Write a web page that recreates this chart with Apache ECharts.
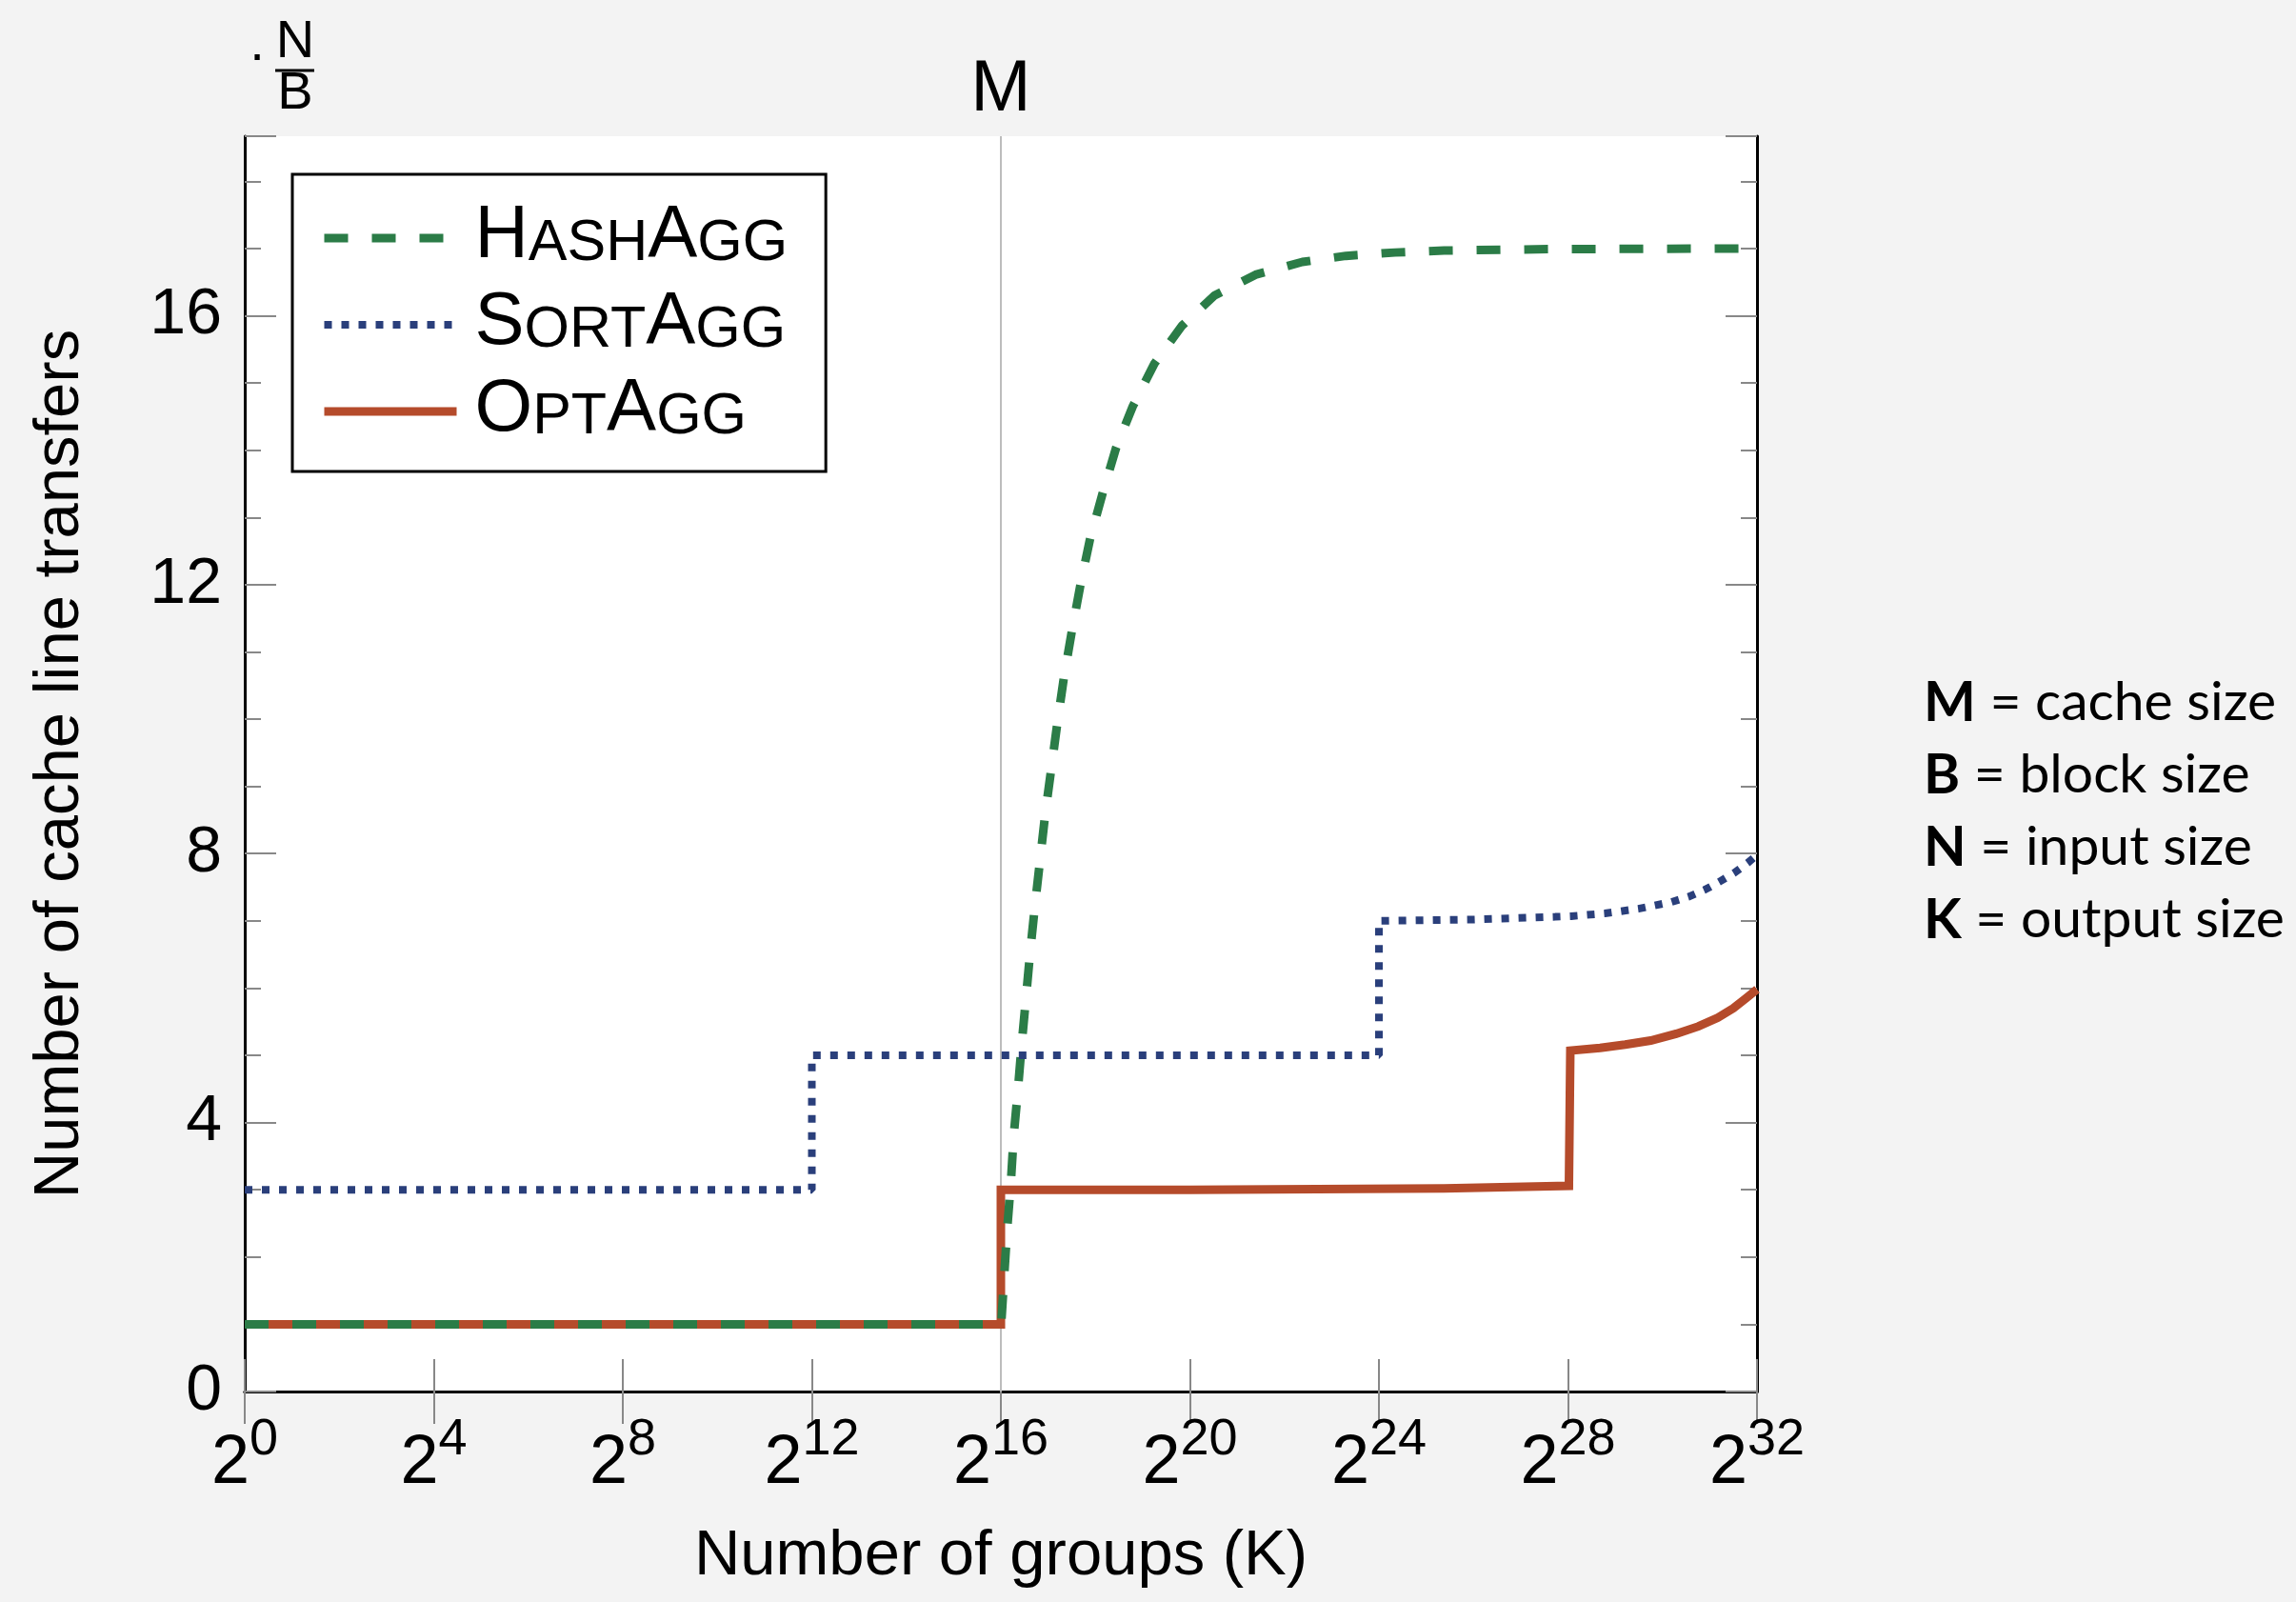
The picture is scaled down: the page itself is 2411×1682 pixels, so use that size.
<!DOCTYPE html>
<html><head><meta charset="utf-8">
<script src="https://cdn.jsdelivr.net/npm/echarts@6/dist/echarts.min.js"></script>
<style>html,body{margin:0;padding:0;background:#f3f3f3}#c{width:2411px;height:1682px}</style>
</head><body><div id="c"></div>
<script>
// log2(K) positions and cache line transfers (units of N/B)
const hashX = [0, 16, 16.01, 16.07, 16.13, 16.21, 16.27, 16.36, 16.44, 16.54, 16.62, 16.72, 16.83, 16.94, 17.07, 17.2, 17.34, 17.51, 17.69, 17.89, 18.15, 18.44, 18.79, 19.25, 19.83, 20.52, 21.39, 22.38, 23.3, 24.34, 25.38, 27.6, 32];
const hashY = [1, 1, 1.03, 1.71, 2.38, 3.09, 3.79, 4.48, 5.16, 5.92, 6.54, 7.22, 7.91, 8.6, 9.28, 9.97, 10.65, 11.34, 12.02, 12.69, 13.35, 14.04, 14.65, 15.29, 15.85, 16.3, 16.61, 16.8, 16.89, 16.94, 16.97, 16.99, 17];
const sortX = [0, 12, 12, 24, 24, 26, 27.73, 28.07, 28.78, 29.49, 30.19, 30.56, 30.89, 31.2, 31.51, 31.8, 32];
const sortY = [3, 3, 5, 5, 7, 7.02, 7.06, 7.07, 7.11, 7.18, 7.28, 7.36, 7.46, 7.58, 7.71, 7.86, 7.98];
const optX = [0, 16, 16, 20, 25.38, 28.02, 28.05, 28.68, 29.21, 29.75, 30.29, 30.76, 31.17, 31.5, 31.77, 32];
const optY = [1, 1, 3, 3, 3.02, 3.06, 5.07, 5.11, 5.16, 5.22, 5.32, 5.43, 5.56, 5.7, 5.85, 5.98];
const seriesNames = ['HashAgg', 'SortAgg', 'OptAgg'];
const legendRich = {HashAgg: '{f|H}{s|ASH}{b|A}{s|GG}', SortAgg: '{f|S}{s|ORT}{b|A}{s|GG}', OptAgg: '{f|O}{s|PT}{b|A}{s|GG}'};
const xTickExps = [0, 4, 8, 12, 16, 20, 24, 28, 32];
const yTickLabels = [0, 4, 8, 12, 16];
const cacheMark = 16;
const notes = [['M', ' = cache size'], ['B', ' = block size'], ['N', ' = input size'], ['K', ' = output size']];

const zip = (xs, ys) => xs.map((x, i) => [x, ys[i]]);
const colors = {HashAgg: '#2b7c47', SortAgg: '#2a3f7b', OptAgg: '#b54b2b'};
const F = 'Liberation Sans, Arial, sans-serif';
const FN = 'Liberation Sans Narrow, Liberation Sans, Arial, sans-serif';
const tickStyle = {color: '#888', width: 2};
const borderLine = {show: true, lineStyle: {color: '#000', width: 3}};
const yMax = 18.67;

const chart = echarts.init(document.getElementById('c'));
const graphics = [
  {type: 'text', x: 270, y: 60, style: {text: '·', font: '56px ' + F, fill: '#000', textAlign: 'center', textVerticalAlign: 'middle'}},
  {type: 'text', x: 310, y: 45, style: {text: 'N', font: '56px ' + FN, fill: '#000', textAlign: 'center', textVerticalAlign: 'middle'}},
  {type: 'line', shape: {x1: 289, y1: 74, x2: 330, y2: 74}, style: {stroke: '#000', lineWidth: 3}},
  {type: 'text', x: 310, y: 99, style: {text: 'B', font: '56px ' + FN, fill: '#000', textAlign: 'center', textVerticalAlign: 'middle'}}
];
notes.forEach((n, i) => {
  graphics.push({type: 'text', x: 2020, y: 738 + i * 76, style: {
    text: '{b|' + n[0] + '}{r|' + n[1] + '}', textVerticalAlign: 'middle', fill: '#000',
    rich: {b: {fontFamily: 'Lato, Open Sans, sans-serif', fontWeight: 'bold', fontSize: 58, fill: '#000'},
           r: {fontFamily: 'Lato, Open Sans, sans-serif', fontSize: 57, fill: '#000'}}
  }});
});

chart.setOption({
  backgroundColor: '#f3f3f3',
  animation: false,
  grid: {left: 257, right: 566, top: 143, bottom: 221, show: true, backgroundColor: '#fff', borderWidth: 0},
  legend: {
    orient: 'vertical', left: 307, top: 183,
    backgroundColor: '#fff', borderColor: '#000', borderWidth: 3, borderRadius: 0,
    padding: [26, 40, 26, 29], itemGap: 13, itemWidth: 139, itemHeight: 14, itemTextGap: 46,
    itemStyle: {opacity: 0, borderWidth: 0},
    data: [
      {name: 'HashAgg', lineStyle: {width: 9}},
      {name: 'SortAgg', lineStyle: {width: 8}},
      {name: 'OptAgg', lineStyle: {width: 9}}
    ],
    lineStyle: {width: 9},
    formatter: n => legendRich[n],
    textStyle: {color: '#000', rich: {
      f: {fontFamily: F, fontSize: 78, color: '#000', lineHeight: 74, verticalAlign: 'bottom', padding: [0, 0, 0, 14]},
      b: {fontFamily: F, fontSize: 78, color: '#000', lineHeight: 74, verticalAlign: 'bottom'},
      s: {fontFamily: F, fontSize: 61, color: '#000', lineHeight: 74, verticalAlign: 'bottom'}
    }}
  },
  xAxis: [
    {type: 'value', position: 'bottom', min: 0, max: 32, interval: 4,
     axisLine: borderLine, splitLine: {show: false},
     axisTick: {show: true, inside: true, length: 34, lineStyle: tickStyle},
     axisLabel: {margin: 24, color: '#000',
       formatter: v => xTickExps.indexOf(v) >= 0 ? '{b|2}{s|' + v + '}' : '',
       rich: {b: {fontFamily: F, fontSize: 72, color: '#000', verticalAlign: 'bottom'},
              s: {fontFamily: F, fontSize: 54, color: '#000', verticalAlign: 'bottom', padding: [0, 0, 34, 0]}}},
     name: 'Number of groups (K)', nameLocation: 'middle', nameGap: 140,
     nameTextStyle: {fontFamily: F, fontSize: 67, color: '#000'}},
    {type: 'value', position: 'top', min: 0, max: 32, interval: 4,
     axisLine: borderLine, splitLine: {show: false},
     axisTick: {show: true, inside: true, length: 34, lineStyle: tickStyle},
     axisLabel: {show: false}}
  ],
  yAxis: [
    {type: 'value', position: 'left', min: 0, max: yMax, interval: 4,
     axisLine: borderLine, splitLine: {show: false},
     axisTick: {show: true, inside: true, length: 33, lineStyle: tickStyle},
     axisLabel: {margin: 24, color: '#000', fontFamily: F, fontSize: 68,
       formatter: v => yTickLabels.indexOf(v) >= 0 ? String(v) : ''},
     name: 'Number of cache line transfers', nameLocation: 'middle', nameGap: 160, nameRotate: 90,
     nameTextStyle: {fontFamily: F, fontSize: 67, color: '#000'}},
    {type: 'value', position: 'left', min: 0, max: yMax, interval: 1,
     axisLine: {show: false}, splitLine: {show: false},
     axisTick: {show: true, inside: true, length: 17, lineStyle: tickStyle},
     axisLabel: {show: false}},
    {type: 'value', position: 'right', min: 0, max: yMax, interval: 4,
     axisLine: borderLine, splitLine: {show: false},
     axisTick: {show: true, inside: true, length: 33, lineStyle: tickStyle},
     axisLabel: {show: false}},
    {type: 'value', position: 'right', min: 0, max: yMax, interval: 1,
     axisLine: {show: false}, splitLine: {show: false},
     axisTick: {show: true, inside: true, length: 17, lineStyle: tickStyle},
     axisLabel: {show: false}}
  ],
  series: [
    {name: 'HashAgg', type: 'line', symbol: 'none', z: 3, data: zip(hashX, hashY),
     itemStyle: {color: colors.HashAgg},
     lineStyle: {color: colors.HashAgg, width: 9, type: [25, 25], cap: 'butt'}},
    {name: 'SortAgg', type: 'line', symbol: 'none', z: 4, data: zip(sortX, sortY),
     itemStyle: {color: colors.SortAgg},
     lineStyle: {color: colors.SortAgg, width: 8, type: [8, 10], cap: 'butt'}},
    {name: 'OptAgg', type: 'line', symbol: 'none', z: 2, data: zip(optX, optY),
     itemStyle: {color: colors.OptAgg},
     lineStyle: {color: colors.OptAgg, width: 9, type: 'solid', join: 'miter'},
     markLine: {silent: true, symbol: 'none', z: 1, animation: false,
       lineStyle: {color: '#bdbdbd', width: 2, type: 'solid'},
       label: {show: true, position: 'end', formatter: 'M', distance: 10, color: '#000', fontFamily: FN, fontSize: 76},
       data: [{xAxis: cacheMark}]}}
  ],
  graphic: graphics
});
</script></body></html>
